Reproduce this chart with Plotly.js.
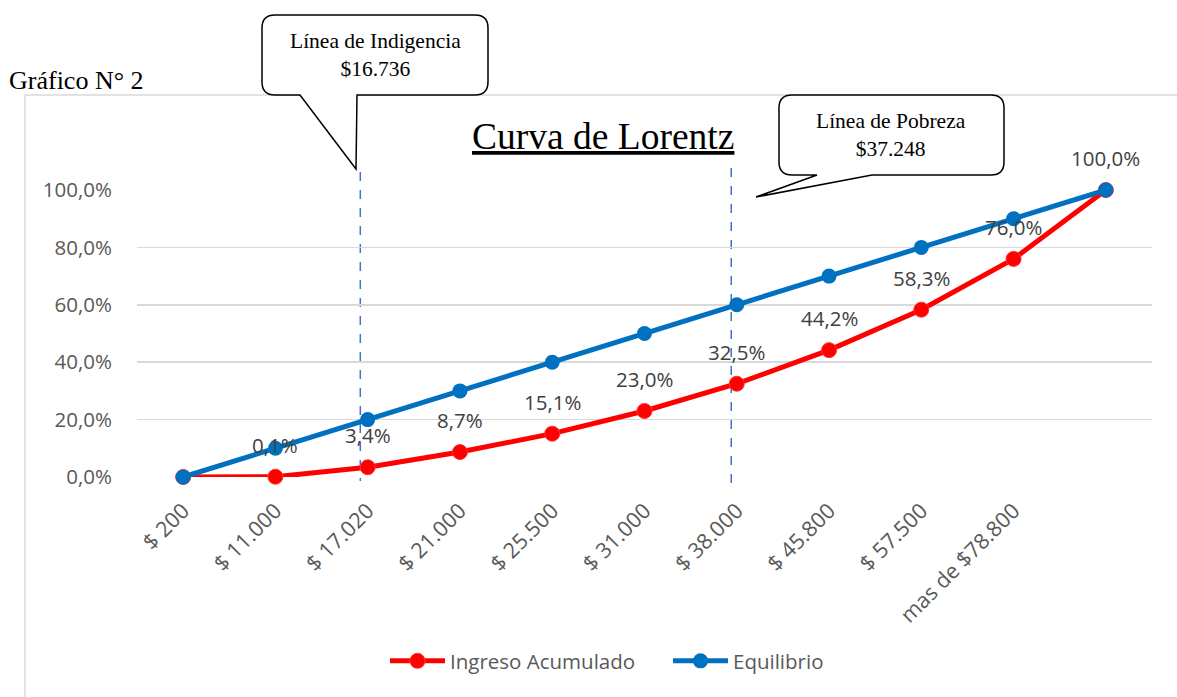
<!DOCTYPE html>
<html>
<head>
<meta charset="utf-8">
<script src="https://cdn.plot.ly/plotly-3.0.1.min.js"></script>
<style>html,body{margin:0;padding:0;background:#fff;}#chart{width:1177px;height:697px;}</style>
</head>
<body>
<div id="chart"></div>
<script>
// ---- data ----
const categories = ["$ 200", "$ 11.000", "$ 17.020", "$ 21.000", "$ 25.500", "$ 31.000", "$ 38.000", "$ 45.800", "$ 57.500", "mas de $78.800", " "];
const ingresoAcumulado = [0, 0.1, 3.4, 8.7, 15.1, 23.0, 32.5, 44.2, 58.3, 76.0, 100.0];
const equilibrio = [0, 10, 20, 30, 40, 50, 60, 70, 80, 90, 100];
const yTickVals = [0, 20, 40, 60, 80, 100];
const yTickLabels = ["0,0%", "20,0%", "40,0%", "60,0%", "80,0%", "100,0%"];
const lineaIndigencia = {label: "Línea de Indigencia", value: "$16.736", pos: 1.92};
const lineaPobreza = {label: "Línea de Pobreza", value: "$37.248", pos: 5.94};

// ---- layout helpers (pixel -> paper) ----
const L = 137, R = 1152, T = 190, B = 477;
const px = x => (x - L) / (R - L);
const py = y => (B - y) / (B - T);

function callout(x0, y0, x1, y1, r, baseA, baseB, tipX, tipY) {
  const P = (x, y) => px(x).toFixed(5) + "," + py(y).toFixed(5);
  let d = "M" + P(x0 + r, y0) + " L" + P(x1 - r, y0) + " Q" + P(x1, y0) + " " + P(x1, y0 + r) +
          " L" + P(x1, y1 - r) + " Q" + P(x1, y1) + " " + P(x1 - r, y1) +
          " L" + P(baseB, y1) + " L" + P(tipX, tipY) + " L" + P(baseA, y1) +
          " L" + P(x0 + r, y1) + " Q" + P(x0, y1) + " " + P(x0, y1 - r) +
          " L" + P(x0, y0 + r) + " Q" + P(x0, y0) + " " + P(x0 + r, y0) + " Z";
  return {type: "path", xref: "paper", yref: "paper", path: d,
          fillcolor: "#ffffff", line: {color: "#000000", width: 1.5}, layer: "above"};
}

const fmt = v => v.toFixed(1).replace(".", ",") + "%";
const sans = "Open Sans, sans-serif";
const serif = "Liberation Serif, Times New Roman, serif";

const traces = [
  {
    x: categories, y: ingresoAcumulado, name: "Ingreso Acumulado",
    type: "scatter", mode: "lines+markers", cliponaxis: false,
    line: {color: "#FF0000", width: 5},
    marker: {color: "#FF0000", size: 15, line: {color: "#FF3333", width: 1}}
  },
  {
    x: categories, y: equilibrio, name: "Equilibrio",
    type: "scatter", mode: "lines+markers", cliponaxis: false,
    line: {color: "#0070C0", width: 5},
    marker: {color: "#0070C0", size: 15}
  }
];

const annotations = [];
ingresoAcumulado.forEach((v, i) => {
  if (i === 0) return;
  annotations.push({
    x: categories[i], y: v, xref: "x", yref: "y", text: fmt(v), showarrow: false,
    yshift: 32, font: {family: sans, size: 20.5, color: "#404040"}
  });
});
annotations.push({
  xref: "paper", yref: "paper", x: px(603), y: py(136), xanchor: "center", yanchor: "middle",
  text: "<u>Curva de Lorentz</u>", showarrow: false,
  font: {family: serif, size: 37.5, color: "#000000"}
});
annotations.push({
  xref: "paper", yref: "paper", x: px(7), y: py(80), xanchor: "left", yanchor: "middle",
  text: "Gráfico N° 2", showarrow: false,
  font: {family: serif, size: 26, color: "#000000"}
});
annotations.push({
  xref: "paper", yref: "paper", x: px(375), y: py(55), xanchor: "center", yanchor: "middle",
  text: lineaIndigencia.label + "<br>" + lineaIndigencia.value, showarrow: false,
  font: {family: serif, size: 21.5, color: "#000000"}
});
annotations.push({
  xref: "paper", yref: "paper", x: px(891), y: py(135), xanchor: "center", yanchor: "middle",
  text: lineaPobreza.label + "<br>" + lineaPobreza.value, showarrow: false,
  font: {family: serif, size: 21.5, color: "#000000"}
});

const shapes = [
  {type: "line", xref: "paper", yref: "paper", x0: px(25), x1: px(25), y0: py(95), y1: py(697),
   line: {color: "#d9d9d9", width: 1.5}, layer: "below"},
  {type: "line", xref: "paper", yref: "paper", x0: px(25), x1: px(1177), y0: py(95), y1: py(95),
   line: {color: "#d9d9d9", width: 1.5}, layer: "below"},
  {type: "line", xref: "x", yref: "paper", x0: lineaIndigencia.pos, x1: lineaIndigencia.pos, y0: py(172), y1: py(481),
   line: {color: "#4472C4", width: 1.5, dash: "dash"}, layer: "below"},
  {type: "line", xref: "x", yref: "paper", x0: lineaPobreza.pos, x1: lineaPobreza.pos, y0: py(168), y1: py(483),
   line: {color: "#4472C4", width: 1.5, dash: "dash"}, layer: "below"},
  callout(262, 15, 488, 95, 13, 300, 357, 356, 169),
  callout(779, 95, 1004, 175, 13, 817, 872, 756, 197)
];

const layout = {
  width: 1177, height: 697,
  margin: {l: L, r: 1177 - R, t: T, b: 697 - B, pad: 0},
  paper_bgcolor: "#ffffff", plot_bgcolor: "#ffffff",
  showlegend: true,
  legend: {orientation: "h", x: px(385), y: py(661), xanchor: "left", yanchor: "middle",
           font: {family: sans, size: 20.5, color: "#595959"},
           itemwidth: 55, entrywidth: 213, traceorder: "normal"},
  xaxis: {type: "category", range: [-0.5, 10.5], showgrid: false, zeroline: false, showline: false,
          ticks: "", tickangle: -45, ticklabelstandoff: 16,
          tickfont: {family: sans, size: 21.5, color: "#595959"},
          fixedrange: true},
  yaxis: {range: [0, 100], tickvals: yTickVals, ticktext: yTickLabels, showgrid: true,
          gridcolor: "#d9d9d9", gridwidth: 1.5, zeroline: false, showline: false, ticks: "",
          ticklabelstandoff: 24,
          tickfont: {family: sans, size: 20.5, color: "#595959"}, fixedrange: true},
  annotations: annotations,
  shapes: shapes
};

Plotly.newPlot("chart", traces, layout, {displayModeBar: false, staticPlot: true});
</script>
</body>
</html>
